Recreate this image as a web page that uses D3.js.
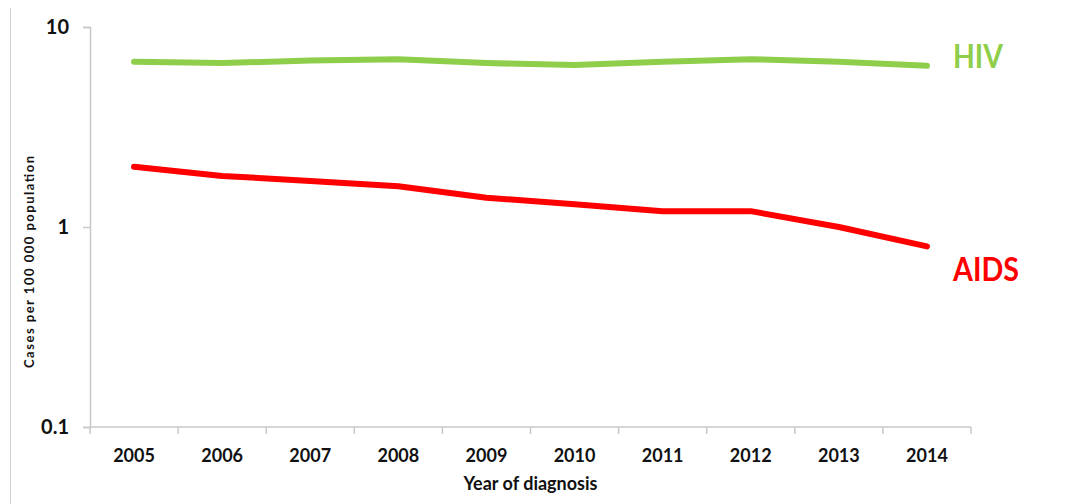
<!DOCTYPE html>
<html>
<head>
<meta charset="utf-8">
<script src="https://cdn.jsdelivr.net/npm/d3@7"></script>
<style>
  body { margin: 0; background: #fff; }
  svg { display: block; font-family: Lato, "Open Sans", sans-serif; }
</style>
</head>
<body>
<svg id="chart" width="1065" height="504"></svg>
<script>
// values
const years = ["2005", "2006", "2007", "2008", "2009", "2010", "2011", "2012", "2013", "2014"];
const hivRates = [6.7, 6.6, 6.8, 6.9, 6.6, 6.45, 6.7, 6.9, 6.7, 6.4];
const aidsRates = [2.0, 1.8, 1.7, 1.6, 1.4, 1.3, 1.2, 1.2, 1.0, 0.8];
const yTicks = [0.1, 1, 10];

const WIDTH = 1065, HEIGHT = 504;
const margin = {top: 27, right: 94, bottom: 77, left: 90};

const svg = d3.select("#chart");

// thin frame line on the left edge
svg.append("line")
  .attr("x1", 10.5).attr("x2", 10.5)
  .attr("y1", 8).attr("y2", HEIGHT)
  .attr("stroke", "#d0d0d0").attr("stroke-width", 1);

const x = d3.scaleBand()
  .domain(years)
  .range([margin.left, WIDTH - margin.right]);

const y = d3.scaleLog()
  .domain([0.1, 10])
  .range([HEIGHT - margin.bottom, margin.top]);

// y axis
const yAxis = svg.append("g")
  .attr("transform", "translate(" + margin.left + ",0)")
  .call(d3.axisLeft(y).tickValues(yTicks).tickFormat(d => d3.format("~g")(d)).tickSize(7).tickPadding(14));
yAxis.select(".domain").attr("stroke", "#c8c8c8").attr("stroke-width", 1.5);
yAxis.selectAll(".tick line").attr("stroke", "#c8c8c8").attr("stroke-width", 1.5);
yAxis.selectAll(".tick text")
  .attr("font-size", 20).attr("font-weight", "bold").attr("fill", "#111")
  .attr("font-family", "Lato, sans-serif");

// x axis, ticks on band edges
const xAxis = svg.append("g")
  .attr("transform", "translate(0," + (HEIGHT - margin.bottom) + ")");
xAxis.append("line")
  .attr("x1", margin.left).attr("x2", WIDTH - margin.right)
  .attr("stroke", "#c8c8c8").attr("stroke-width", 1.5);
const edges = years.map(d => x(d)).concat([x(years[years.length - 1]) + x.bandwidth()]);
xAxis.selectAll("line.edge")
  .data(edges)
  .enter()
  .append("line")
    .attr("class", "edge")
    .attr("x1", d => d).attr("x2", d => d)
    .attr("y1", 0).attr("y2", 7)
    .attr("stroke", "#c8c8c8").attr("stroke-width", 1.5);
xAxis.selectAll("text.year")
  .data(years)
  .enter()
  .append("text")
    .attr("class", "year")
    .attr("x", d => x(d) + x.bandwidth() / 2)
    .attr("y", 35)
    .attr("text-anchor", "middle")
    .attr("font-size", 18).attr("font-weight", "bold").attr("fill", "#111")
    .text(d => d);

// axis titles
svg.append("text")
  .attr("x", (margin.left + WIDTH - margin.right) / 2)
  .attr("y", 490)
  .attr("text-anchor", "middle")
  .attr("font-size", 18).attr("font-weight", "bold").attr("fill", "#111")
  .text("Year of diagnosis");

svg.append("text")
  .attr("transform", "translate(34,262) rotate(-90)")
  .attr("text-anchor", "middle")
  .attr("font-size", 13).attr("font-weight", "bold").attr("fill", "#111")
  .attr("textLength", 212).attr("lengthAdjust", "spacing")
  .text("Cases per 100 000 population");

// lines
const line = d3.line()
  .x((d, i) => x(years[i]) + x.bandwidth() / 2)
  .y(d => y(d));

const series = [
  {name: "HIV", values: hivRates, color: "#8fce4a", labelY: 68},
  {name: "AIDS", values: aidsRates, color: "#ff0000", labelY: 281}
];

svg.selectAll("path.series")
  .data(series)
  .enter()
  .append("path")
    .attr("class", "series")
    .attr("d", d => line(d.values))
    .attr("fill", "none")
    .attr("stroke", d => d.color)
    .attr("stroke-width", 6)
    .attr("stroke-linecap", "round")
    .attr("stroke-linejoin", "round");

svg.selectAll("text.label")
  .data(series)
  .enter()
  .append("text")
    .attr("class", "label")
    .attr("x", 953)
    .attr("y", d => d.labelY)
    .attr("font-size", 32).attr("font-weight", "bold")
    .attr("fill", d => d.color)
    .attr("textLength", d => d.name === "HIV" ? 50 : 66)
    .attr("lengthAdjust", "spacingAndGlyphs")
    .text(d => d.name);
</script>
</body>
</html>
